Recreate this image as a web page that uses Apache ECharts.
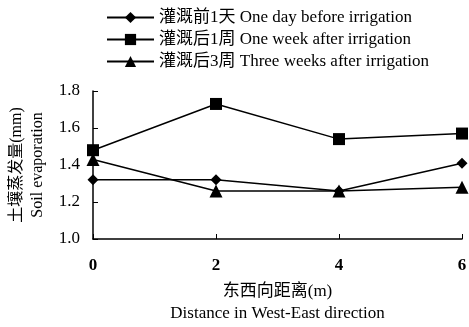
<!DOCTYPE html>
<html><head><meta charset="utf-8">
<script src="https://cdn.jsdelivr.net/npm/echarts@6/dist/echarts.min.js"></script>
<style>html,body{margin:0;padding:0;background:#fff}#c{width:469px;height:327px}</style>
</head><body><div id="c"></div>
<script>
const distances = [0, 2, 4, 6];
const dayBefore = [1.32, 1.32, 1.26, 1.41];
const weekAfter = [1.48, 1.73, 1.54, 1.57];
const threeWeeksAfter = [1.43, 1.26, 1.26, 1.28];
const seriesNames = ['灌溉前1天 One day before irrigation', '灌溉后1周 One week after irrigation', '灌溉后3周 Three weeks after irrigation'];
const yTicks = [1.0, 1.2, 1.4, 1.6, 1.8];
const xTicks = [0, 2, 4, 6];

const font = '"Liberation Serif", "Noto Sans CJK SC", serif';
const pairs = arr => distances.map((d, i) => [d, arr[i]]);
const mk = (name, data, symbol, size) => ({
  name, type: 'line', data: pairs(data), symbol, symbolSize: size,
  lineStyle: {color: '#000', width: 1.5}, itemStyle: {color: '#000'}, animation: false
});
const chart = echarts.init(document.getElementById('c'));
chart.setOption({
  backgroundColor: '#fff',
  animation: false,
  grid: {left: 93, right: 7, top: 91, bottom: 88, containLabel: false, outerBoundsMode: 'none'},
  legend: {
    orient: 'vertical', left: 101, top: 4, itemGap: 5, itemWidth: 47, itemHeight: 14,
    textStyle: {fontFamily: font, fontSize: 17, color: '#000'},
    data: seriesNames
  },
  xAxis: {
    type: 'value', min: xTicks[0], max: xTicks[xTicks.length - 1], interval: 2,
    name: '东西向距离(m)\nDistance in West-East direction', nameLocation: 'middle', nameGap: 42,
    nameTextStyle: {fontFamily: font, fontSize: 17, color: '#000', lineHeight: 22},
    axisLine: {lineStyle: {color: '#000', width: 1.5}},
    axisTick: {inside: true, length: 5, lineStyle: {color: '#000'}},
    axisLabel: {fontFamily: font, fontSize: 17, fontWeight: 'bold', color: '#000', margin: 18},
    splitLine: {show: false}
  },
  yAxis: {
    type: 'value', min: yTicks[0], max: yTicks[yTicks.length - 1], interval: 0.2,
    name: '土壤蒸发量(mm)\nSoil evaporation', nameLocation: 'middle', nameGap: 40, nameRotate: 90,
    nameTextStyle: {fontFamily: font, fontSize: 16, color: '#000', lineHeight: 21},
    axisLine: {show: true, lineStyle: {color: '#000', width: 1.5}},
    axisTick: {show: true, inside: true, length: 5, lineStyle: {color: '#000'}},
    axisLabel: {fontFamily: font, fontSize: 17, color: '#000', margin: 13, formatter: v => v.toFixed(1)},
    splitLine: {show: false}
  },
  series: [
    mk(seriesNames[0], dayBefore, 'diamond', 11),
    mk(seriesNames[1], weekAfter, 'rect', 12),
    mk(seriesNames[2], threeWeeksAfter, 'triangle', 13)
  ]
});
</script></body></html>
